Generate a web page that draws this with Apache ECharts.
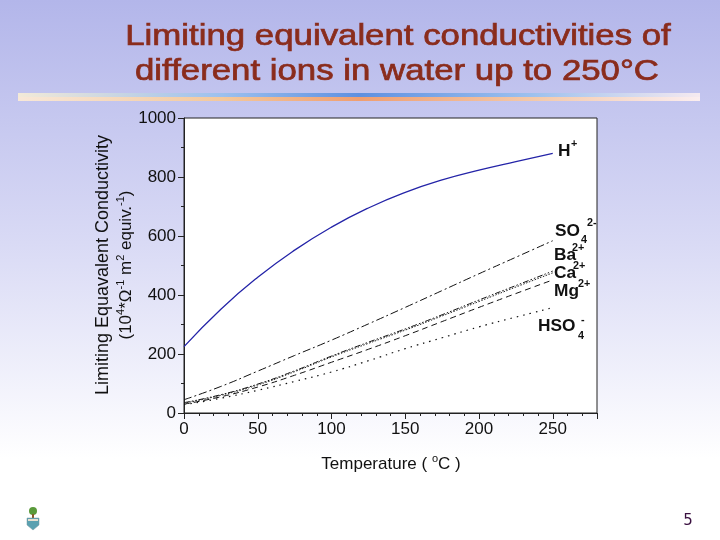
<!DOCTYPE html>
<html>
<head>
<meta charset="utf-8">
<script src="https://cdn.jsdelivr.net/npm/echarts@6/dist/echarts.min.js"></script>
<style>
html,body{margin:0;padding:0;}
#c{width:720px;height:540px;}
</style>
</head>
<body>
<div id="c"></div>
<script>
var temps = [0, 25, 50, 75, 100, 125, 150, 175, 200, 225, 250];
var hPlus = [225, 352, 460, 552, 630, 695, 748, 790, 823, 852, 880];
var so4 = [45, 90, 142, 195, 247, 302, 358, 415, 472, 528, 584];
var ba = [35, 62, 98, 143, 193, 240, 285, 333, 383, 432, 481];
var ca = [33, 60, 95, 140, 190, 236, 281, 329, 378, 427, 475];
var mg = [30, 55, 88, 128, 172, 216, 262, 310, 358, 405, 451];
var hso4 = [28, 50, 77, 107, 139, 177, 218, 255, 292, 325, 357];
var xTicks = [0, 50, 100, 150, 200, 250];
var yTicks = [0, 200, 400, 600, 800, 1000];

function pairs(ys){ return temps.map(function(t,i){ return [t, ys[i]]; }); }

var FONT = 'Liberation Sans, Arial, sans-serif';
var chart = echarts.init(document.getElementById('c'), null, {renderer:'canvas'});

function mkLine(name, data, color, type, width){
  return {name:name, type:'line', data:pairs(data), smooth:true, showSymbol:false, symbol:'none',
    lineStyle:{color:color, width:width||1, type:type}, z:3, animation:false};
}
function lbl(x, y, text, size){
  return {type:'text', x:x, y:y, scaleX:1.08, style:{text:text, fill:'#111', font:'bold '+size+'px '+FONT, verticalAlign:'middle'}, z:10};
}

var option = {
  animation:false,
  backgroundColor: {type:'linear', x:0, y:0, x2:0, y2:1, colorStops:[
    {offset:0, color:'#b3b6ea'}, {offset:0.45, color:'#d9daf5'}, {offset:0.85, color:'#ffffff'}, {offset:1, color:'#ffffff'}]},
  grid:{left:184, right:123, top:118, bottom:127, show:true, backgroundColor:'#ffffff', borderColor:'#222', borderWidth:1},
  xAxis:{type:'value', min:0, max:280, interval:50,
    axisLine:{show:true, onZero:false, lineStyle:{color:'#222', width:1}},
    axisTick:{show:true, inside:false, length:6, lineStyle:{color:'#222'}},
    minorTick:{show:true, splitNumber:5, length:3, lineStyle:{color:'#222'}},
    splitLine:{show:false},
    axisLabel:{color:'#111', fontSize:17, fontFamily:FONT, margin:8, showMaxLabel:false,
      formatter:function(v){ return xTicks.indexOf(v) >= 0 ? String(v) : ''; }}
  },
  yAxis:{type:'value', min:0, max:1000, interval:200,
    axisLine:{show:true, lineStyle:{color:'#222', width:1}},
    axisTick:{show:true, inside:false, length:6, lineStyle:{color:'#222'}},
    minorTick:{show:true, splitNumber:2, length:3, lineStyle:{color:'#222'}},
    splitLine:{show:false},
    axisLabel:{color:'#111', fontSize:17, fontFamily:FONT, margin:8,
      formatter:function(v){ return yTicks.indexOf(v) >= 0 ? String(v) : ''; }}
  },
  series:[
    mkLine('H+', hPlus, '#2424a8', 'solid', 1.3),
    mkLine('SO4 2-', so4, '#111', [8,3,2,3], 1),
    mkLine('Ba2+', ba, '#111', [6,2,1.5,2,1.5,2], 1),
    mkLine('Ca2+', ca, '#222', [1.5,1.5], 1),
    mkLine('Mg2+', mg, '#111', [6,4], 1),
    mkLine('HSO4-', hso4, '#111', [1.5,5], 1.2)
  ],
  graphic:[
    {type:'text', x:398, y:37, scaleX:1.2, style:{text:'Limiting equivalent conductivities of', fill:'#8a2c1c', stroke:'#8a2c1c', lineWidth:0.7, font:'29px '+FONT, align:'center', verticalAlign:'middle'}, z:10},
    {type:'text', x:397, y:72, scaleX:1.2, style:{text:'different ions in water up to 250°C', fill:'#8a2c1c', stroke:'#8a2c1c', lineWidth:0.7, font:'29px '+FONT, align:'center', verticalAlign:'middle'}, z:10},
    {type:'rect', shape:{x:18, y:93, width:682, height:4}, style:{fill:{type:'linear', x:0, y:0, x2:1, y2:0, colorStops:[
      {offset:0, color:'#f3ead8'}, {offset:0.3, color:'#9cc0ee'}, {offset:0.5, color:'#5f90e0'}, {offset:0.75, color:'#9cc0ee'}, {offset:1, color:'#f6eaf0'}]}}, z:10},
    {type:'rect', shape:{x:18, y:97, width:682, height:4}, style:{fill:{type:'linear', x:0, y:0, x2:1, y2:0, colorStops:[
      {offset:0, color:'#f8e8d8'}, {offset:0.3, color:'#f3c89c'}, {offset:0.5, color:'#ef9e70'}, {offset:0.75, color:'#f3c8a8'}, {offset:1, color:'#fbeef0'}]}}, z:10},
    // y axis titles
    {type:'text', x:103, y:265, rotation:Math.PI/2, style:{text:'Limiting Equavalent Conductivity', fill:'#111', font:'18px '+FONT, align:'center', verticalAlign:'middle'}, z:10},
    {type:'text', x:126, y:265, rotation:Math.PI/2, style:{text:'(10{s|4}*Ω{s|-1} m{s|2} equiv.{s|-1})', fill:'#111', font:'17px '+FONT, align:'center', verticalAlign:'middle',
      rich:{s:{fontSize:11, fontFamily:FONT, fill:'#111', verticalAlign:'top', lineHeight:22}}}, z:10},
    // x axis title
    {type:'text', x:391, y:464, style:{text:'Temperature ( {s|o}C )', fill:'#111', font:'17px '+FONT, align:'center', verticalAlign:'middle',
      rich:{s:{fontSize:11, fontFamily:FONT, fill:'#111', verticalAlign:'top', lineHeight:21}}}, z:10},
    // curve labels
    lbl(558, 152, 'H', 16), lbl(571, 144, '+', 10),
    lbl(555, 232, 'SO', 16), lbl(581, 240, '4', 10), lbl(587, 223, '2-', 10),
    lbl(554, 256, 'Ba', 16), lbl(572, 248, '2+', 10),
    lbl(554, 274, 'Ca', 16), lbl(573, 266, '2+', 10),
    lbl(554, 292, 'Mg', 16), lbl(578, 284, '2+', 10),
    lbl(538, 327, 'HSO', 16), lbl(578, 336, '4', 10), lbl(581, 320, '-', 10),
    // logo
    {type:'circle', shape:{cx:33, cy:511, r:4}, style:{fill:'#5a9a3a'}, z:10},
    {type:'rect', shape:{x:32, y:514, width:2, height:4}, style:{fill:'#8a5a2a'}, z:10},
    {type:'polygon', shape:{points:[[27,518],[39,518],[39,525],[33,530],[27,525]]}, style:{fill:'#5aa0b0', stroke:'#7a9aa0', lineWidth:0.5}, z:10},
    {type:'rect', shape:{x:28, y:519, width:10, height:2}, style:{fill:'#e8e0d0'}, z:10},
    // page number
    {type:'text', x:688, y:521, style:{text:'5', fill:'#3a1040', font:'15px DejaVu Sans, sans-serif', align:'center', verticalAlign:'middle'}, z:10}
  ]
};
chart.setOption(option);
</script>
</body>
</html>
